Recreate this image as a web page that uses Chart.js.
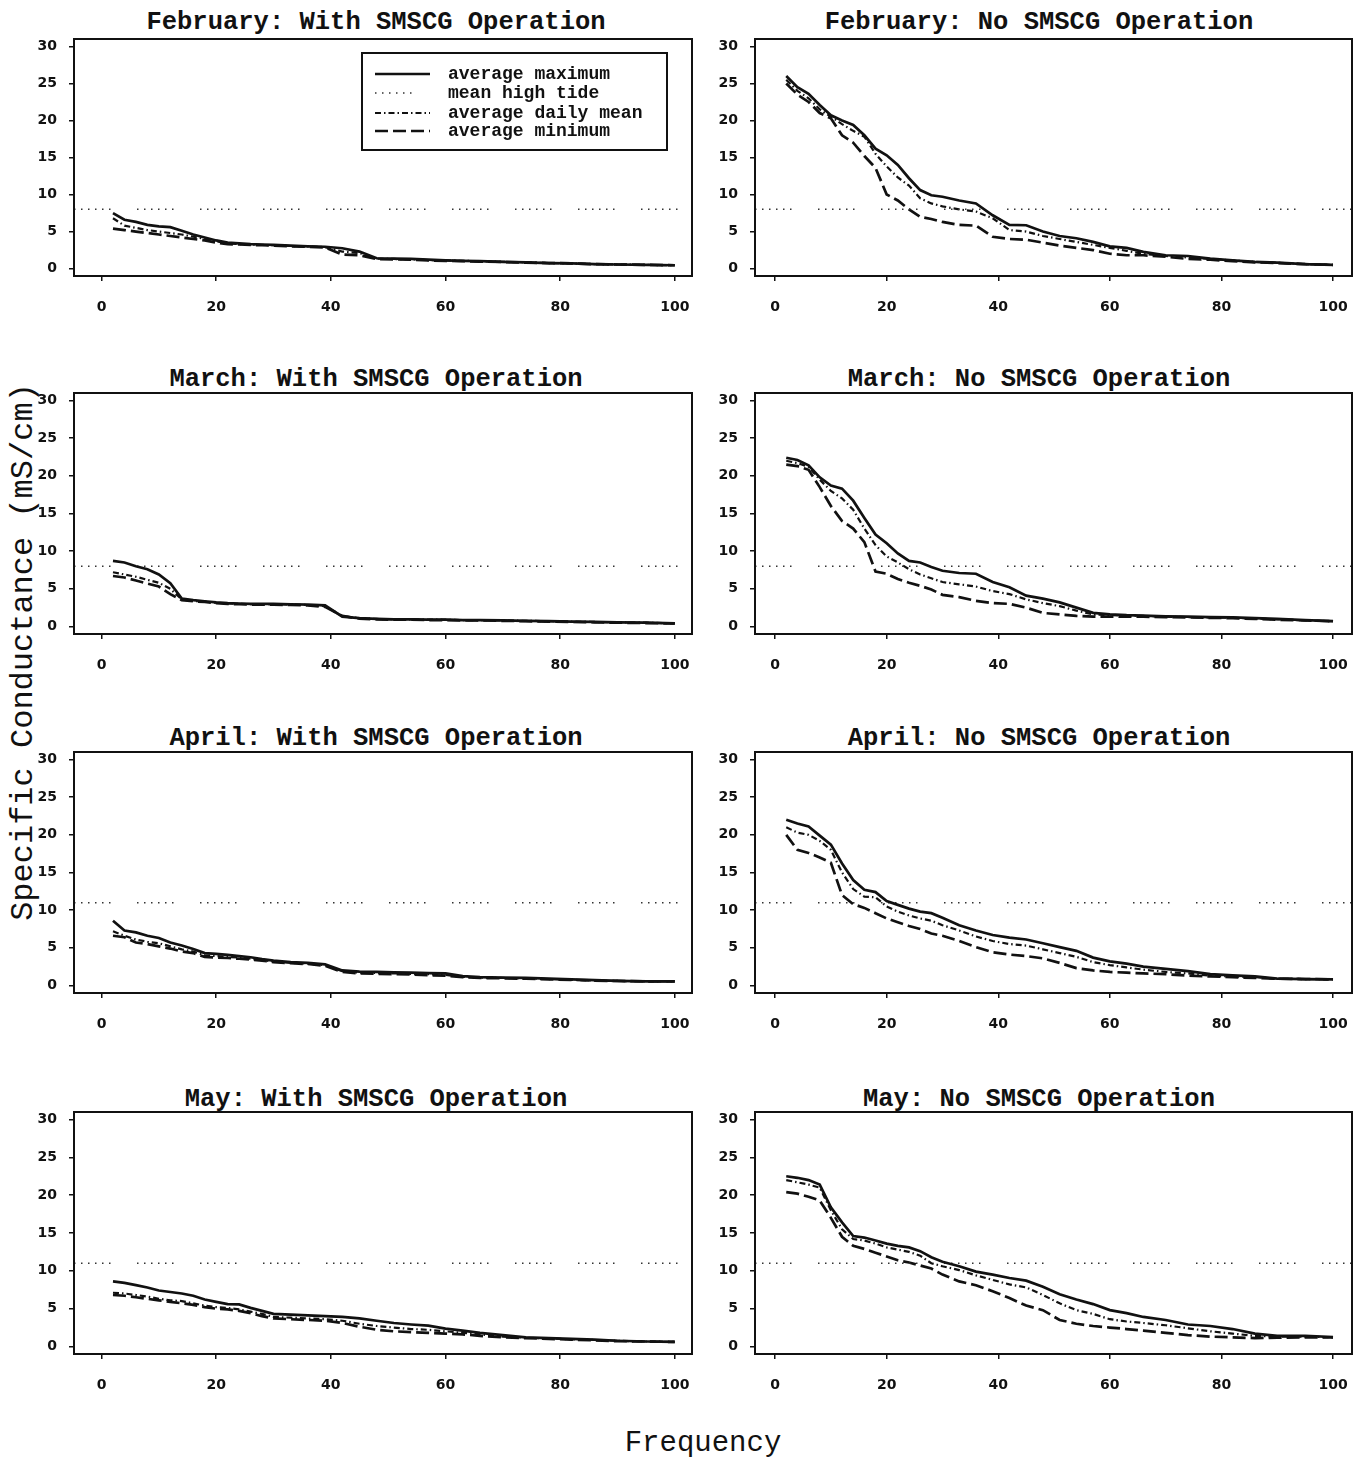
<!DOCTYPE html>
<html><head><meta charset="utf-8">
<script src="https://cdn.jsdelivr.net/npm/chart.js@4/dist/chart.umd.min.js"></script>
<style>
html,body{margin:0;padding:0;background:#fff;}
body{width:1358px;height:1459px;position:relative;overflow:hidden;}
canvas{position:absolute;}
.ptitle{position:absolute;transform:translate(-50%,-50%);font:bold 25.5px 'Liberation Mono',monospace;color:#111;white-space:nowrap;}
#ytitle{position:absolute;left:23px;top:652px;transform:translate(-50%,-50%) rotate(-90deg);font:32px 'Liberation Mono',monospace;color:#111;white-space:nowrap;}
#xtitle{position:absolute;left:703px;top:1443px;transform:translate(-50%,-50%);font:29px 'Liberation Mono',monospace;color:#111;white-space:nowrap;}
</style></head>
<body>
<div id="ytitle">Specific Conductance (mS/cm)</div>
<div id="xtitle">Frequency</div>
<script>
// ---- data ----
const freq = [2,4,6,8,10,12,14,16,18,20,22,24,26,28,30,33,36,39,42,45,48,51,54,57,60,63,66,70,74,78,82,86,90,95,100];
const xTicks = [0,20,40,60,80,100];
const yTicks = [0,5,10,15,20,25,30];
const seriesLabels = ['average maximum','mean high tide','average daily mean','average minimum'];
const panelTitles = ['February: With SMSCG Operation','February: No SMSCG Operation','March: With SMSCG Operation','March: No SMSCG Operation','April: With SMSCG Operation','April: No SMSCG Operation','May: With SMSCG Operation','May: No SMSCG Operation'];
const tideLevels = [8,8,8,8,11,11,11,11];

const febWithMax  = [7.5,6.6,6.3,5.9,5.7,5.6,5.1,4.6,4.2,3.8,3.5,3.4,3.3,3.25,3.2,3.1,3.0,2.95,2.75,2.3,1.4,1.35,1.3,1.2,1.1,1.05,1.0,0.9,0.85,0.75,0.7,0.6,0.55,0.5,0.45];
const febWithMean = [6.8,5.8,5.5,5.2,5.0,4.8,4.6,4.3,4.0,3.7,3.4,3.3,3.25,3.2,3.15,3.05,3.0,2.9,2.3,2.1,1.35,1.3,1.25,1.15,1.1,1.05,1.0,0.9,0.85,0.75,0.7,0.6,0.55,0.5,0.45];
const febWithMin  = [5.4,5.2,5.0,4.8,4.6,4.4,4.2,4.0,3.8,3.5,3.3,3.25,3.2,3.15,3.1,3.0,2.95,2.85,1.9,1.8,1.3,1.25,1.2,1.1,1.05,1.0,0.95,0.9,0.8,0.75,0.7,0.6,0.55,0.5,0.45];

const febNoMax  = [26.0,24.5,23.6,22.1,20.7,20.0,19.4,18.0,16.2,15.3,14.0,12.2,10.6,9.9,9.7,9.2,8.8,7.2,5.9,5.85,5.0,4.4,4.1,3.6,3.0,2.8,2.25,1.8,1.7,1.35,1.1,0.9,0.8,0.6,0.5];
const febNoMean = [25.5,24.0,23.0,21.5,20.5,19.5,18.6,17.8,15.5,13.8,12.3,11.2,9.5,8.8,8.4,8.0,7.7,6.8,5.2,5.0,4.4,4.0,3.6,3.2,2.8,2.4,2.0,1.7,1.5,1.3,1.1,0.9,0.8,0.6,0.5];
const febNoMin  = [25.0,23.5,22.5,21.0,20.3,18.0,17.0,15.2,13.6,10.0,9.2,8.0,7.0,6.7,6.3,5.9,5.8,4.3,4.0,3.9,3.5,3.1,2.8,2.5,2.0,1.8,1.8,1.6,1.3,1.2,1.0,0.85,0.75,0.6,0.5];

const marWithMax  = [8.7,8.5,8.0,7.6,6.9,5.75,3.7,3.5,3.35,3.2,3.1,3.05,3.0,3.0,3.0,2.95,2.9,2.8,1.3,1.1,1.0,0.95,0.95,0.9,0.9,0.85,0.85,0.8,0.75,0.7,0.65,0.6,0.55,0.5,0.4];
const marWithMean = [7.2,6.9,6.6,6.2,5.8,5.0,3.6,3.4,3.3,3.15,3.05,3.0,2.95,2.95,2.95,2.9,2.85,2.7,1.35,1.1,1.0,0.95,0.95,0.9,0.9,0.85,0.85,0.8,0.75,0.7,0.65,0.6,0.55,0.5,0.4];
const marWithMin  = [6.7,6.5,6.1,5.7,5.3,4.3,3.5,3.35,3.25,3.1,3.0,2.95,2.9,2.9,2.9,2.85,2.8,2.6,1.4,1.05,0.95,0.9,0.9,0.85,0.85,0.8,0.8,0.75,0.7,0.65,0.6,0.55,0.5,0.45,0.4];

const marNoMax  = [22.4,22.1,21.4,19.8,18.7,18.3,16.7,14.4,12.2,11.05,9.7,8.7,8.5,7.9,7.4,7.1,7.0,5.9,5.2,4.1,3.7,3.2,2.5,1.8,1.6,1.5,1.45,1.35,1.3,1.25,1.2,1.1,1.0,0.85,0.7];
const marNoMean = [22.0,21.7,21.2,19.5,18.0,17.0,15.5,13.0,10.8,9.3,8.5,7.6,6.9,6.4,5.9,5.6,5.3,4.7,4.3,3.6,3.1,2.7,2.1,1.6,1.5,1.45,1.4,1.3,1.25,1.2,1.15,1.05,0.95,0.8,0.7];
const marNoMin  = [21.5,21.3,20.8,18.5,16.0,14.0,13.0,11.2,7.3,7.0,6.3,5.8,5.4,4.9,4.2,3.9,3.4,3.1,3.0,2.5,1.8,1.6,1.4,1.3,1.3,1.3,1.3,1.25,1.2,1.15,1.1,1.0,0.9,0.8,0.7];

const aprWithMax  = [8.6,7.3,7.05,6.6,6.3,5.7,5.3,4.85,4.3,4.2,4.05,3.9,3.75,3.5,3.3,3.1,3.0,2.8,2.0,1.85,1.8,1.75,1.7,1.65,1.6,1.25,1.1,1.05,1.0,0.9,0.8,0.7,0.6,0.55,0.55];
const aprWithMean = [7.2,6.6,6.1,5.8,5.6,5.2,4.8,4.5,4.0,3.9,3.8,3.7,3.55,3.35,3.2,3.0,2.9,2.7,1.9,1.7,1.65,1.6,1.55,1.5,1.4,1.15,1.05,1.0,0.95,0.85,0.75,0.65,0.6,0.55,0.55];
const aprWithMin  = [6.6,6.4,5.7,5.5,5.2,4.9,4.5,4.3,3.8,3.7,3.65,3.55,3.45,3.3,3.1,2.95,2.85,2.6,1.8,1.6,1.55,1.5,1.45,1.35,1.3,1.1,1.0,0.95,0.9,0.8,0.75,0.65,0.6,0.55,0.55];

const aprNoMax  = [22.0,21.5,21.1,19.9,18.7,16.2,14.0,12.7,12.4,11.2,10.7,10.2,9.8,9.6,9.0,8.0,7.3,6.7,6.35,6.1,5.6,5.1,4.6,3.7,3.2,2.9,2.5,2.2,1.9,1.5,1.35,1.2,0.9,0.85,0.8];
const aprNoMean = [21.0,20.3,20.0,19.2,18.0,15.0,12.8,11.8,11.7,10.5,9.8,9.3,8.9,8.6,8.0,7.3,6.5,5.9,5.5,5.3,4.8,4.3,3.8,3.1,2.7,2.4,2.1,1.8,1.6,1.3,1.2,1.1,0.9,0.85,0.8];
const aprNoMin  = [20.0,18.0,17.6,17.0,16.3,12.0,10.8,10.3,9.6,8.9,8.4,7.9,7.5,6.9,6.6,5.9,5.1,4.4,4.1,3.9,3.6,3.0,2.3,2.0,1.8,1.7,1.6,1.5,1.3,1.2,1.1,1.0,0.9,0.85,0.8];

const mayWithMax  = [8.6,8.4,8.1,7.8,7.4,7.2,7.0,6.7,6.2,5.9,5.6,5.55,5.1,4.7,4.3,4.2,4.1,4.0,3.9,3.7,3.4,3.1,2.9,2.75,2.35,2.1,1.8,1.5,1.2,1.1,1.0,0.9,0.75,0.65,0.6];
const mayWithMean = [7.1,7.0,6.8,6.6,6.3,6.1,6.0,5.7,5.4,5.2,5.1,4.9,4.6,4.3,3.9,3.8,3.7,3.6,3.4,3.0,2.7,2.5,2.3,2.2,2.0,1.8,1.6,1.3,1.15,1.05,0.95,0.85,0.75,0.65,0.6];
const mayWithMin  = [6.8,6.7,6.5,6.3,6.1,5.9,5.7,5.5,5.2,5.0,4.9,4.7,4.4,4.0,3.7,3.6,3.5,3.4,3.1,2.6,2.2,2.0,1.9,1.8,1.7,1.6,1.4,1.2,1.1,1.0,0.9,0.8,0.7,0.65,0.6];

const mayNoMax  = [22.5,22.3,22.0,21.4,18.4,16.4,14.6,14.4,14.0,13.6,13.3,13.1,12.6,11.8,11.2,10.6,9.9,9.5,9.05,8.7,7.9,6.9,6.2,5.6,4.8,4.4,3.9,3.5,2.9,2.7,2.3,1.7,1.4,1.4,1.25];
const mayNoMean = [22.0,21.7,21.4,21.0,18.0,15.5,14.2,14.0,13.6,13.1,12.8,12.5,12.0,11.0,10.6,10.1,9.4,8.8,8.2,7.8,6.8,5.7,4.8,4.3,3.6,3.3,3.1,2.8,2.4,2.0,1.7,1.4,1.3,1.3,1.2];
const mayNoMin  = [20.4,20.2,19.8,19.3,17.0,14.5,13.3,12.9,12.4,11.9,11.4,11.1,10.7,10.3,9.5,8.6,8.1,7.3,6.4,5.4,4.8,3.5,3.0,2.7,2.5,2.3,2.1,1.8,1.5,1.3,1.2,1.1,1.15,1.2,1.2];

const panelSeries = [
  [febWithMax,febWithMean,febWithMin],[febNoMax,febNoMean,febNoMin],
  [marWithMax,marWithMean,marWithMin],[marNoMax,marNoMean,marNoMin],
  [aprWithMax,aprWithMean,aprWithMin],[aprNoMax,aprNoMean,aprNoMin],
  [mayWithMax,mayWithMean,mayWithMin],[mayNoMax,mayNoMean,mayNoMin]
];

// ---- layout / style ----
const xMinByCol = [-4.8,-3.6], xMaxByCol = [103.0,103.4];
const Y_MIN = -1, Y_MAX = 31;
const colLeft = [0,700], colWidth = [700,658], yAxisW = [74,55], rightPad = [8,6];
const boxTop = [39,393,752,1112], boxBottom = [276,634,993,1354];
const titleCX = [376,1039], titleCY = [22,379,738,1099];
const TOP_PAD = 10, XAXIS_H = 45;
const INK = '#111';
const TIDE_DASH = [1.5,5.5,1.5,5.5,1.5,5.5,1.5,5.5,1.5,5.5,1.5,26.5];
const tickFont = {family:'DejaVu Sans', size:14, weight:'bold'};

const framePlugin = {
  id:'frame',
  afterDatasetsDraw(chart){
    const a = chart.chartArea, c = chart.ctx;
    c.save(); c.strokeStyle = INK; c.lineWidth = 2; c.setLineDash([]);
    c.strokeRect(a.left, a.top, a.right - a.left, a.bottom - a.top);
    c.restore();
  }
};
const boxLegendPlugin = {
  id:'boxLegend',
  afterDatasetsDraw(chart, args, opts){
    if (!opts.show) return;
    const a = chart.chartArea, c = chart.ctx;
    const w = 305, h = 97, x0 = a.right - 25 - w, y0 = a.top + 14;
    const rows = [21,40,60,78];
    c.save();
    c.fillStyle = '#fff'; c.fillRect(x0, y0, w, h);
    c.strokeStyle = INK; c.lineWidth = 2; c.strokeRect(x0, y0, w, h);
    chart.data.datasets.forEach((ds, k) => {
      const y = y0 + rows[k];
      c.setLineDash(ds.borderDash || []);
      c.lineWidth = ds.borderWidth; c.strokeStyle = ds.borderColor;
      c.beginPath(); c.moveTo(x0 + 13, y); c.lineTo(x0 + 68, y); c.stroke();
      c.setLineDash([]);
      c.fillStyle = INK; c.font = 'bold 18px "Liberation Mono"'; c.textBaseline = 'middle'; c.textAlign = 'left';
      c.fillText(ds.label, x0 + 86, y);
    });
    c.restore();
  }
};

function pts(arr){ return freq.map((x,i)=>({x:x, y:arr[i]})); }

for (let i = 0; i < 8; i++) {
  const col = i % 2, row = Math.floor(i / 2);
  const xMin = xMinByCol[col], xMax = xMaxByCol[col];
  const t = document.createElement('div');
  t.className = 'ptitle'; t.textContent = panelTitles[i];
  t.style.left = titleCX[col] + 'px'; t.style.top = titleCY[row] + 'px';
  document.body.appendChild(t);

  const cv = document.createElement('canvas');
  const H = (boxBottom[row] - boxTop[row]) + TOP_PAD + XAXIS_H;
  cv.width = colWidth[col]; cv.height = H;
  cv.style.left = colLeft[col] + 'px';
  cv.style.top = (boxTop[row] - TOP_PAD) + 'px';
  cv.style.width = colWidth[col] + 'px'; cv.style.height = H + 'px';
  document.body.appendChild(cv);
  const [mx, mn, lo] = panelSeries[i];
  const tide = tideLevels[i];
  new Chart(cv, {
    type:'line',
    data:{datasets:[
      {label:seriesLabels[0], data:pts(mx), borderColor:INK, borderWidth:2.7, borderDash:[], pointRadius:0, tension:0},
      {label:seriesLabels[1], data:[{x:xMin,y:tide},{x:xMax,y:tide}], borderColor:'#333', borderWidth:1.5, borderDash:TIDE_DASH, pointRadius:0},
      {label:seriesLabels[2], data:pts(mn), borderColor:INK, borderWidth:2.2, borderDash:[6,3,1.5,3], pointRadius:0, tension:0},
      {label:seriesLabels[3], data:pts(lo), borderColor:INK, borderWidth:2.7, borderDash:[13,5], pointRadius:0, tension:0}
    ]},
    options:{
      responsive:false, animation:false, devicePixelRatio:1,
      layout:{padding:{top:TOP_PAD,bottom:0,left:0,right:rightPad[col]}},
      plugins:{
        legend:{display:false}, tooltip:{enabled:false}, title:{display:false},
        boxLegend:{show: i === 0}
      },
      scales:{
        x:{type:'linear', min:xMin, max:xMax,
           afterBuildTicks:s=>{s.ticks = xTicks.map(v=>({value:v}));},
           afterFit:s=>{s.height = XAXIS_H; s.paddingLeft = 0; s.paddingRight = 0;},
           grid:{drawOnChartArea:false, drawTicks:true, tickLength:5, color:INK, lineWidth:1.5},
           border:{display:true, color:INK, width:2},
           ticks:{padding:18, maxRotation:0, autoSkip:false, color:INK, font:tickFont}},
        y:{type:'linear', min:Y_MIN, max:Y_MAX,
           afterBuildTicks:s=>{s.ticks = yTicks.map(v=>({value:v}));},
           afterFit:s=>{s.width = yAxisW[col]; s.paddingTop = 0; s.paddingBottom = 0;},
           grid:{drawOnChartArea:false, drawTicks:true, tickLength:5, color:INK, lineWidth:1.5},
           border:{display:true, color:INK, width:2},
           ticks:{padding:12, color:INK, font:tickFont}}
      }
    },
    plugins:[framePlugin, boxLegendPlugin]
  });
}
</script>
</body></html>
